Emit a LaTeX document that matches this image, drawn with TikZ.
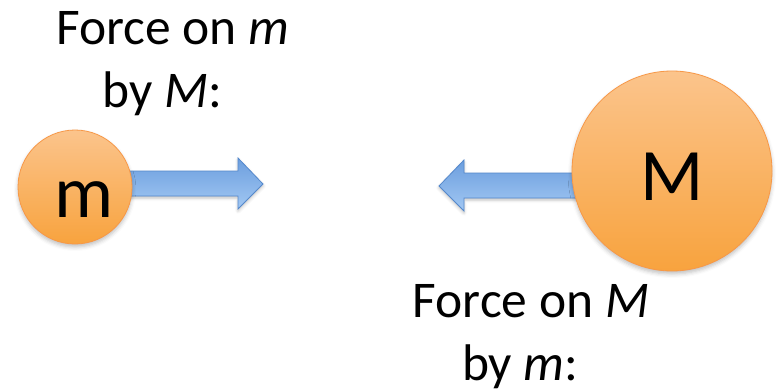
\documentclass[tikz,border=0pt]{standalone}
\usepackage{fontspec}
\setmainfont{Carlito}
\usetikzlibrary{shadows.blur}

\definecolor{ballTop}{RGB}{251,196,140}
\definecolor{ballBot}{RGB}{248,163,62}
\definecolor{ballEdge}{RGB}{247,152,72}
\definecolor{arrTop}{RGB}{108,158,222}
\definecolor{arrBot}{RGB}{162,200,243}
\definecolor{arrEdge}{RGB}{84,136,204}

\tikzset{
  ball/.style={circle, draw=ballEdge, line width=0.8pt, inner sep=0pt,
    top color=ballTop, bottom color=ballBot,
    blur shadow={shadow xshift=0pt, shadow yshift=-3pt, shadow opacity=25, shadow blur radius=4pt}},
  ballname/.style={font=\fontsize{74}{80}\selectfont, inner sep=0pt, anchor=base},
  blockarrow/.style={draw=arrEdge, line width=0.8pt, line join=miter,
    top color=arrTop, bottom color=arrBot,
    blur shadow={shadow xshift=0pt, shadow yshift=-2pt, shadow opacity=25, shadow blur radius=3pt}},
  % anchor=base sits on the last line of a two-line caption
  caption/.style={font=\fontsize{51.5}{63}\selectfont, align=center, inner sep=0pt, anchor=base}
}
% trailing space after the second caption line, as typed in the slide
\newcommand{\trailsp}{\hspace*{0.42em}}

\begin{document}
\begin{tikzpicture}[x=1pt, y=-1pt]
  \useasboundingbox (0,0) rectangle (778,388);

  % force on m, pointing right towards M
  \draw[blockarrow] (100,171) -- (238,171) -- (238,158) -- (263,184)
    -- (238,209) -- (238,196) -- (100,196) -- cycle;
  % force on M, pointing left towards m
  \draw[blockarrow] (600,173) -- (464,173) -- (464,160) -- (439,186)
    -- (464,211) -- (464,198) -- (600,198) -- cycle;

  % the two masses
  \node[ball, minimum size=114pt] (m) at (75,187) {};
  \node[ball, minimum size=200pt] (M) at (672,171) {};
  \node[ballname] (mlab) at (84,217) {m};
  \node[ballname] (Mlab) at (672,200) {M};

  % captions
  \node[caption] (capm) at (173,107) {Force on \textit{m}\\by \textit{M}:\trailsp};
  \node[caption] (capM) at (531,380) {Force on \textit{M}\\by \textit{m}:\trailsp};
\end{tikzpicture}
\end{document}
